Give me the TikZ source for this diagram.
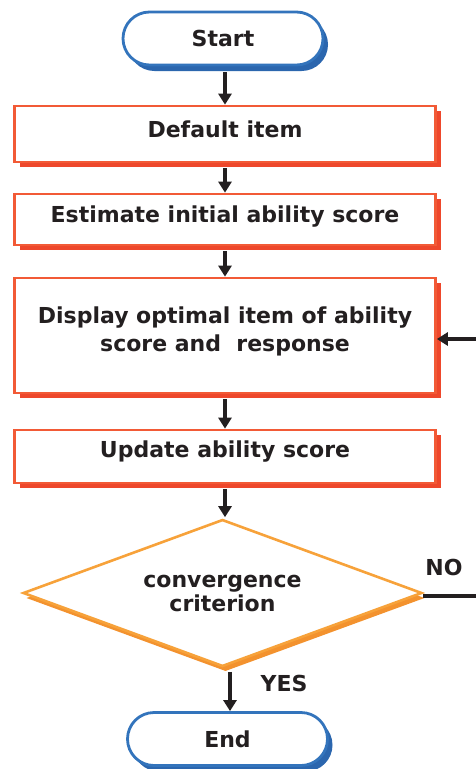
\documentclass[tikz,border=0pt]{standalone}
\usepackage{fontspec}
\setmainfont{DejaVu Sans}
\usetikzlibrary{shapes.geometric,shapes.misc,shadows,arrows.meta,calc}
\definecolor{rcol}{HTML}{F25A36}
\definecolor{rsh}{HTML}{EE472B}
\definecolor{bcol}{HTML}{3374BC}
\definecolor{bsh}{HTML}{2B66AE}
\definecolor{dcol}{HTML}{F7A23A}
\definecolor{dsh}{HTML}{F3922E}
\definecolor{ink}{HTML}{231F20}
\begin{document}
\begin{tikzpicture}[x=1pt,y=-1pt,
  every node/.style={font=\bfseries\fontsize{22}{28}\selectfont, text=ink},
  termbox/.style={rounded rectangle, draw=bcol, line width=2.8pt, fill=white,
    minimum width=200pt, minimum height=53pt, inner sep=0pt,
    drop shadow={shadow xshift=5pt, shadow yshift=-6pt, fill=bsh, opacity=1}},
  rectbox/.style={rectangle, draw=rcol, line width=2.7pt, fill=white,
    minimum width=421pt, inner sep=0pt,
    drop shadow={shadow xshift=5pt, shadow yshift=-5pt, fill=rsh, opacity=1}},
  decbox/.style={diamond, draw=dcol, line width=2.6pt, fill=white, shape aspect=2.7,
    minimum width=399pt, minimum height=147pt, inner sep=0pt, align=center,
    drop shadow={shadow xshift=3pt, shadow yshift=-5pt, fill=dsh, opacity=1}},
  boxtext/.style={align=center, font=\bfseries\fontsize{22}{28}\selectfont},
  arr/.style={draw=ink, line width=3.5pt, -{Triangle[width=13pt,length=11pt]}},
  plain/.style={draw=ink, line width=3.5pt}
]
\useasboundingbox (0,0) rectangle (475,769);

\node[termbox] (start) at (223,38.5) {Start};
\node[rectbox, minimum height=56pt,
  label={[name=t1, boxtext, yshift=5pt]center:Default item}] (n1) at (225,134) {};
\node[rectbox, minimum height=51pt,
  label={[name=t2, boxtext, yshift=3pt]center:Estimate initial ability score}] (n2) at (225,219.5) {};
\node[rectbox, minimum height=115pt,
  label={[name=t3, boxtext, yshift=4pt]center:Display optimal item of ability\\score and~~response}] (n3) at (225,335.5) {};
\node[rectbox, minimum height=53pt,
  label={[name=t4, boxtext, yshift=4.5pt]center:Update ability score}] (n4) at (225,456.5) {};
\node[decbox, font=\bfseries\fontsize{22}{24}\selectfont] (dia) at (222.5,593) {convergence\\criterion};
\node[termbox] (end) at (227.5,739) {End};

\node (no) at (444,567) {NO};
\node (yes) at (284,683) {YES};

\coordinate (noend) at (478,596);
\coordinate (loopin) at (478,339);

\draw[arr] ([yshift=-6pt]n1.north |- start.south) -- (n1.north);
\draw[arr] ([yshift=-5pt]n2.north |- n1.south) -- (n2.north);
\draw[arr] ([yshift=-5pt]n3.north |- n2.south) -- (n3.north);
\draw[arr] ([yshift=-5pt]n4.north |- n3.south) -- (n4.north);
\draw[arr] ([yshift=-5pt]n4.south) -- ([yshift=1pt]n4.south |- dia.north);
\draw[arr] ([xshift=7.5pt,yshift=-4pt]dia.south) -- ([xshift=2.5pt]end.north);
\draw[plain] ([yshift=-3pt]dia.east) -- (noend);
\draw[arr] (loopin) -- (loopin -| n3.east);
\end{tikzpicture}
\end{document}
